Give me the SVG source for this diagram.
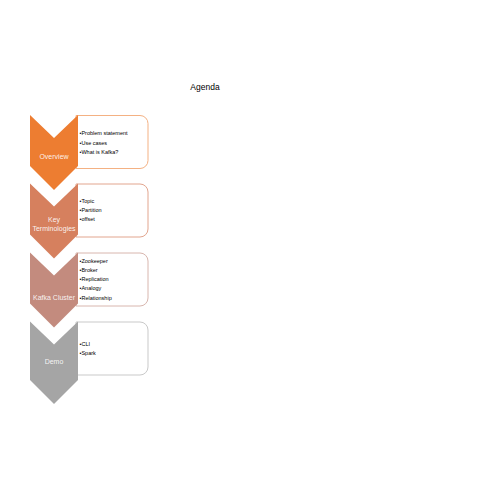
<svg xmlns="http://www.w3.org/2000/svg" width="495" height="495" viewBox="0 0 495 495">
<style>
.title{font-family:"Liberation Sans",Arial,sans-serif;font-size:8.5px;fill:#000;text-anchor:middle}
.lbl{font-family:"Liberation Sans",Arial,sans-serif;font-size:7px;fill:#fff;fill-opacity:0.9;text-anchor:middle}
.item{font-family:"Liberation Sans",Arial,sans-serif;font-size:5.5px;fill:#000}
.box{fill:#fff;stroke-width:1}
</style>
<rect width="495" height="495" fill="#fff"/>
<text class="title" x="205" y="90">Agenda</text>
<g id="connectors"></g>
<g id="overview">
<path class="box" stroke="#F4B183" d="M76,115.5 H140 A8,8 0 0 1 148,123.5 V160.5 A8,8 0 0 1 140,168.5 H76 Z"/>
<polygon fill="#ED7D31" points="30,115 54,138 78,115 78,166 54,190 30,166"/>
<text class="lbl" x="54" y="158.5">Overview</text>
<text class="item" x="79.5" y="135.3">•Problem statement</text>
<text class="item" x="79.5" y="144.7">•Use cases</text>
<text class="item" x="79.5" y="154">•What is Kafka?</text>
</g>
<g id="key">
<path class="box" stroke="#E2A58E" d="M76,184 H140 A8,8 0 0 1 148,192 V229 A8,8 0 0 1 140,237 H76 Z"/>
<polygon fill="#D6805E" points="30,183.5 54,206.5 78,183.5 78,234.5 54,258.5 30,234.5"/>
<text class="lbl" x="54" y="221.5">Key</text>
<text class="lbl" x="54" y="230.5">Terminologies</text>
<text class="item" x="79.5" y="202.7">•Topic</text>
<text class="item" x="79.5" y="212">•Partition</text>
<text class="item" x="79.5" y="220.7">•offset</text>
</g>
<g id="kafka">
<path class="box" stroke="#D8B6AE" d="M76,253 H140 A8,8 0 0 1 148,261 V298 A8,8 0 0 1 140,306 H76 Z"/>
<polygon fill="#C38B7E" points="30,252.5 54,275.5 78,252.5 78,303.5 54,327.5 30,303.5"/>
<text class="lbl" x="54" y="300">Kafka Cluster</text>
<text class="item" x="79.5" y="262.7">•Zookeeper</text>
<text class="item" x="79.5" y="272">•Broker</text>
<text class="item" x="79.5" y="281.3">•Replication</text>
<text class="item" x="79.5" y="290.3">•Analogy</text>
<text class="item" x="79.5" y="300.3">•Relationship</text>
</g>
<g id="demo">
<path class="box" stroke="#C9C9C9" d="M76,322 H140 A8,8 0 0 1 148,330 V367 A8,8 0 0 1 140,375 H76 Z"/>
<polygon fill="#A5A5A5" points="30,321.5 54,344.5 78,321.5 78,380 54,404 30,380"/>
<text class="lbl" x="54" y="364">Demo</text>
<text class="item" x="79.5" y="346">•CLI</text>
<text class="item" x="79.5" y="355.3">•Spark</text>
</g>
</svg>
